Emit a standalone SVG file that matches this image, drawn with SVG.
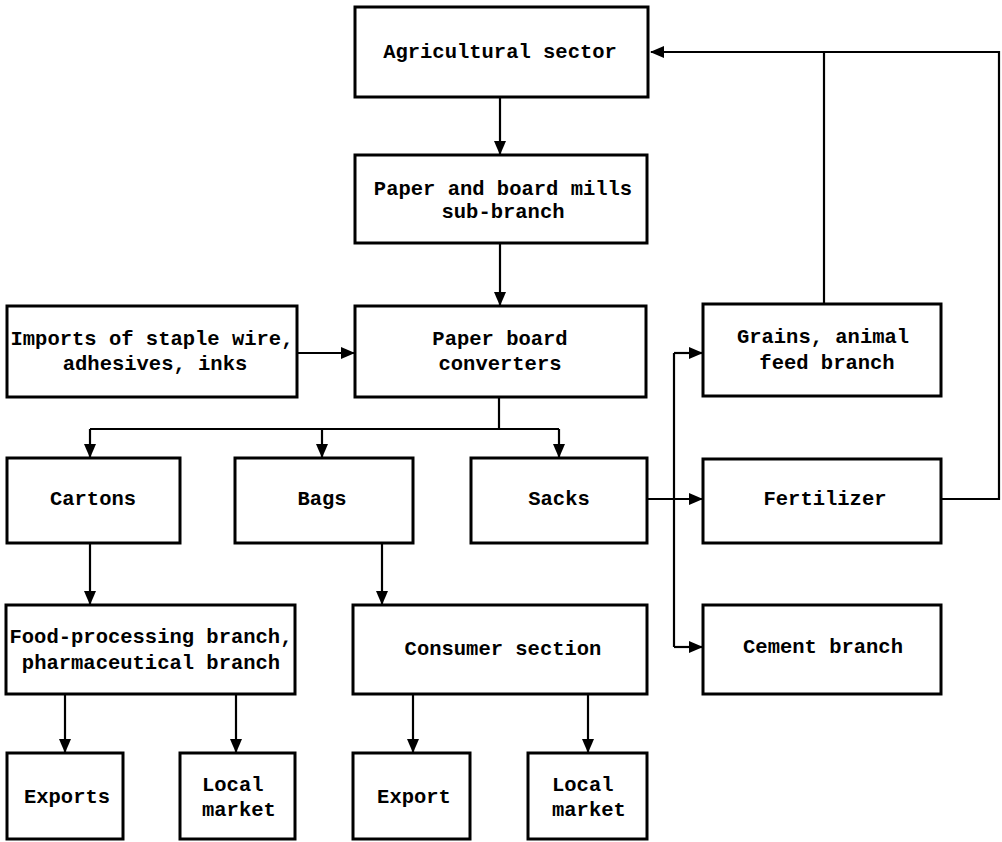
<svg xmlns="http://www.w3.org/2000/svg" width="1002" height="842" viewBox="0 0 1002 842">
  <style>
    .box { fill: #fff; stroke: #000; stroke-width: 3; }
    .lbl { font-family: "Liberation Mono", "DejaVu Sans Mono", monospace; font-weight: bold; font-size: 20.5px; fill: #000; text-anchor: middle; }
    .lft { text-anchor: start; }
    .wire { fill: none; stroke: #000; stroke-width: 2.2; }
  </style>
  <defs>
    <marker id="arrow" markerUnits="userSpaceOnUse" markerWidth="14" markerHeight="12" viewBox="0 0 14 12" refX="13" refY="6" orient="auto">
      <path d="M0,0 L14,6 L0,12 Z" fill="#000"/>
    </marker>
  </defs>
  <rect width="1002" height="842" fill="#fff"/>

  <!-- flow lines -->
  <g id="connectors">
    <line class="wire" x1="500" y1="97" x2="500" y2="154" marker-end="url(#arrow)"/>
    <line class="wire" x1="500" y1="243" x2="500" y2="305" marker-end="url(#arrow)"/>
    <line class="wire" x1="297" y1="353" x2="354" y2="353" marker-end="url(#arrow)"/>
    <!-- converters split to the three packaging types -->
    <polyline class="wire" points="499,397 499,429"/>
    <line class="wire" x1="90" y1="429" x2="559" y2="429"/>
    <line class="wire" x1="90" y1="429" x2="90" y2="457" marker-end="url(#arrow)"/>
    <line class="wire" x1="322" y1="429" x2="322" y2="457" marker-end="url(#arrow)"/>
    <line class="wire" x1="559" y1="429" x2="559" y2="457" marker-end="url(#arrow)"/>
    <!-- sacks to user branches -->
    <line class="wire" x1="647" y1="499" x2="702" y2="499" marker-end="url(#arrow)"/>
    <line class="wire" x1="674" y1="353" x2="674" y2="647"/>
    <line class="wire" x1="674" y1="353" x2="702" y2="353" marker-end="url(#arrow)"/>
    <line class="wire" x1="674" y1="647" x2="702" y2="647" marker-end="url(#arrow)"/>
    <!-- feedback to agriculture -->
    <polyline class="wire" points="941,499 999,499 999,52 651,52" marker-end="url(#arrow)"/>
    <line class="wire" x1="824" y1="52" x2="824" y2="304"/>
    <!-- lower tiers -->
    <line class="wire" x1="90" y1="543" x2="90" y2="604" marker-end="url(#arrow)"/>
    <line class="wire" x1="382" y1="543" x2="382" y2="604" marker-end="url(#arrow)"/>
    <line class="wire" x1="65" y1="694" x2="65" y2="752" marker-end="url(#arrow)"/>
    <line class="wire" x1="236" y1="694" x2="236" y2="752" marker-end="url(#arrow)"/>
    <line class="wire" x1="413" y1="694" x2="413" y2="752" marker-end="url(#arrow)"/>
    <line class="wire" x1="588" y1="694" x2="588" y2="752" marker-end="url(#arrow)"/>
  </g>

  <g id="agricultural-sector">
    <rect class="box" x="355" y="7" width="293" height="90"/>
    <text class="lbl" x="500" y="58">Agricultural sector</text>
  </g>
  <g id="paper-mills">
    <rect class="box" x="355" y="155" width="292" height="88"/>
    <text class="lbl" x="503" y="195">Paper and board mills</text>
    <text class="lbl" x="503" y="218">sub-branch</text>
  </g>
  <g id="imports">
    <rect class="box" x="7" y="306" width="290" height="91"/>
    <text class="lbl" x="152" y="345">Imports of staple wire,</text>
    <text class="lbl" x="155" y="370">adhesives, inks</text>
  </g>
  <g id="converters">
    <rect class="box" x="355" y="306" width="291" height="91"/>
    <text class="lbl" x="500" y="345">Paper board</text>
    <text class="lbl" x="500" y="370">converters</text>
  </g>
  <g id="grains">
    <rect class="box" x="703" y="304" width="238" height="92"/>
    <text class="lbl" x="823" y="343">Grains, animal</text>
    <text class="lbl" x="827" y="369">feed branch</text>
  </g>
  <g id="cartons">
    <rect class="box" x="7" y="458" width="173" height="85"/>
    <text class="lbl" x="93" y="505">Cartons</text>
  </g>
  <g id="bags">
    <rect class="box" x="235" y="458" width="178" height="85"/>
    <text class="lbl" x="322" y="505">Bags</text>
  </g>
  <g id="sacks">
    <rect class="box" x="471" y="458" width="176" height="85"/>
    <text class="lbl" x="559" y="505">Sacks</text>
  </g>
  <g id="fertilizer">
    <rect class="box" x="703" y="459" width="238" height="84"/>
    <text class="lbl" x="825" y="505">Fertilizer</text>
  </g>
  <g id="food-pharma">
    <rect class="box" x="6" y="605" width="289" height="89"/>
    <text class="lbl" x="151" y="643">Food-processing branch,</text>
    <text class="lbl" x="151" y="669">pharmaceutical branch</text>
  </g>
  <g id="consumer">
    <rect class="box" x="353" y="605" width="294" height="89"/>
    <text class="lbl" x="503" y="655">Consumer section</text>
  </g>
  <g id="cement">
    <rect class="box" x="703" y="605" width="238" height="89"/>
    <text class="lbl" x="823" y="653">Cement branch</text>
  </g>
  <g id="exports">
    <rect class="box" x="7" y="753" width="116" height="86"/>
    <text class="lbl" x="67" y="803">Exports</text>
  </g>
  <g id="local-market-1">
    <rect class="box" x="180" y="753" width="115" height="86"/>
    <text class="lbl lft" x="202" y="791">Local</text>
    <text class="lbl lft" x="202" y="816">market</text>
  </g>
  <g id="export">
    <rect class="box" x="353" y="753" width="117" height="86"/>
    <text class="lbl" x="414" y="803">Export</text>
  </g>
  <g id="local-market-2">
    <rect class="box" x="528" y="753" width="119" height="86"/>
    <text class="lbl lft" x="552" y="791">Local</text>
    <text class="lbl lft" x="552" y="816">market</text>
  </g>
</svg>
